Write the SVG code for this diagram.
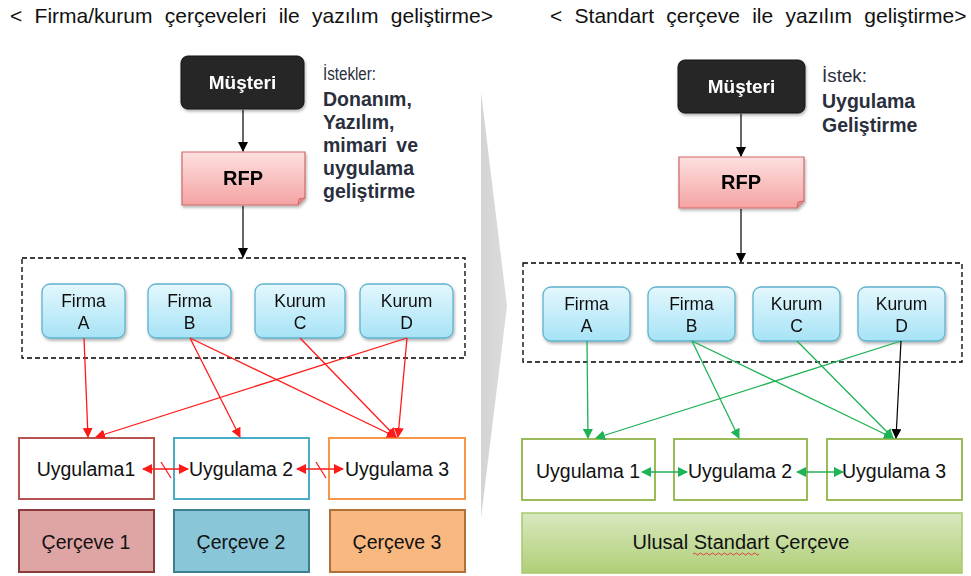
<svg xmlns="http://www.w3.org/2000/svg" width="971" height="576" viewBox="0 0 971 576">
<defs>
<linearGradient id="gRfp" x1="0" y1="0" x2="0" y2="1"><stop offset="0" stop-color="#fde0e0"/><stop offset="1" stop-color="#f5a3a3"/></linearGradient>
<linearGradient id="gNode" x1="0" y1="0" x2="0" y2="1"><stop offset="0" stop-color="#e4f7fd"/><stop offset="1" stop-color="#a6e3f6"/></linearGradient>
<linearGradient id="gUlusal" x1="0" y1="0" x2="0" y2="1"><stop offset="0" stop-color="#d9e8bf"/><stop offset="1" stop-color="#b0cf78"/></linearGradient>
<linearGradient id="gArrow" x1="0" y1="0" x2="1" y2="0"><stop offset="0" stop-color="#d4d4d4"/><stop offset="1" stop-color="#dcdcdc"/></linearGradient>
<filter id="sh" x="-10%" y="-10%" width="125%" height="130%"><feDropShadow dx="1" dy="2" stdDeviation="1.5" flood-color="#000" flood-opacity="0.3"/></filter>
<marker id="mBlack" viewBox="0 0 10 10" refX="9" refY="5" markerWidth="10" markerHeight="10" markerUnits="userSpaceOnUse" orient="auto"><path d="M0,0 L10,5 L0,10 z" fill="#000"/></marker>
<marker id="mRed" viewBox="0 0 10 10" refX="9" refY="5" markerWidth="10" markerHeight="10" markerUnits="userSpaceOnUse" orient="auto-start-reverse"><path d="M0,0 L10,5 L0,10 z" fill="#ff1a1a"/></marker>
<marker id="mGreen" viewBox="0 0 10 10" refX="9" refY="5" markerWidth="10" markerHeight="10" markerUnits="userSpaceOnUse" orient="auto-start-reverse"><path d="M0,0 L10,5 L0,10 z" fill="#1fb256"/></marker>
</defs>
<style>
text{font-family:"Liberation Sans",Arial,sans-serif;fill:#111;}
.title{font-size:21px;word-spacing:6.5px;}
.note{font-size:18px;fill:#2a2f3d;}
.noteb{font-size:19.5px;font-weight:bold;fill:#2a2f3d;}
.cust{fill:#262626;stroke:#111;stroke-width:1;}
.custt{font-size:19px;font-weight:bold;fill:#fff;}
.rfp{fill:url(#gRfp);stroke:#d06868;stroke-width:1.2;}
.rfpt{font-size:20px;font-weight:bold;fill:#000;}
.dash{fill:none;stroke:#000;stroke-width:1.3;stroke-dasharray:5,3;}
.node{fill:url(#gNode);stroke:#5eb3cd;stroke-width:1.3;}
.nodet{font-size:17.5px;}
.app{fill:#fff;stroke-width:2;}
.appt{font-size:19.5px;}
.fr{stroke-width:2;}
.frt{font-size:19.5px;}
.r{stroke:#ff1a1a;stroke-width:1.3;fill:none;}
.g{stroke:#1fb256;stroke-width:1.3;fill:none;}
.k{stroke:#000;stroke-width:1.2;fill:none;}
</style>

<text class="title" x="10" y="23">&lt; Firma/kurum çerçeveleri ile yazılım geliştirme&gt;</text>
<text class="title" x="550" y="23">&lt; Standart çerçeve ile yazılım geliştirme&gt;</text>

<polygon points="481,92 507,306 481,518" fill="url(#gArrow)"/>

<g id="left-musteri" filter="url(#sh)"><rect class="cust" x="181" y="56" width="123" height="53" rx="7"/><text class="custt" x="242.5" y="89" text-anchor="middle">Müşteri</text></g>
<g id="left-rfp" filter="url(#sh)"><path class="rfp" d="M182,152 H305 V198 L298,205 H182 Z"/><path d="M298,205 L299,199 L305,198" fill="#e08c8c" stroke="#d06868" stroke-width="1"/><text class="rfpt" x="243" y="185" text-anchor="middle">RFP</text></g>
<g id="left-note">
<text class="note" x="323" y="80" textLength="53" lengthAdjust="spacingAndGlyphs">İstekler:</text>
<text class="noteb" x="323" y="106">Donanım,</text>
<text class="noteb" x="323" y="129">Yazılım,</text>
<text class="noteb" x="323" y="152" style="word-spacing:4px">mimari ve</text>
<text class="noteb" x="323" y="175">uygulama</text>
<text class="noteb" x="323" y="198">geliştirme</text>
</g>
<g id="left-group"><rect class="dash" x="22" y="258" width="443" height="100"/></g>
<g id="left-firmaA" filter="url(#sh)"><rect class="node" x="42" y="284" width="83" height="54" rx="8"/><text class="nodet" x="83.5" y="307" text-anchor="middle">Firma</text><text class="nodet" x="83.5" y="329" text-anchor="middle">A</text></g>
<g id="left-firmaB" filter="url(#sh)"><rect class="node" x="148" y="284" width="83" height="54" rx="8"/><text class="nodet" x="189.5" y="307" text-anchor="middle">Firma</text><text class="nodet" x="189.5" y="329" text-anchor="middle">B</text></g>
<g id="left-kurumC" filter="url(#sh)"><rect class="node" x="255" y="284" width="90" height="54" rx="8"/><text class="nodet" x="300" y="307" text-anchor="middle">Kurum</text><text class="nodet" x="300" y="329" text-anchor="middle">C</text></g>
<g id="left-kurumD" filter="url(#sh)"><rect class="node" x="360" y="284" width="93" height="54" rx="8"/><text class="nodet" x="406.5" y="307" text-anchor="middle">Kurum</text><text class="nodet" x="406.5" y="329" text-anchor="middle">D</text></g>
<g id="left-uyg1"><rect class="app" x="19" y="438" width="135" height="61" stroke="#b85450"/><text class="appt" x="86" y="476" text-anchor="middle">Uygulama1</text></g>
<g id="left-uyg2"><rect class="app" x="174" y="438" width="135" height="61" stroke="#4bacc6"/><text class="appt" x="241" y="476" text-anchor="middle">Uygulama 2</text></g>
<g id="left-uyg3"><rect class="app" x="329" y="438" width="136" height="61" stroke="#f79646"/><text class="appt" x="397" y="476" text-anchor="middle">Uygulama 3</text></g>
<g id="left-cerceve1"><rect class="fr" x="19" y="510" width="135" height="62" fill="#dfa4a4" stroke="#8c3b3b"/><text class="frt" x="86" y="549" text-anchor="middle">Çerçeve 1</text></g>
<g id="left-cerceve2"><rect class="fr" x="174" y="510" width="135" height="62" fill="#88c6d8" stroke="#3e7f8f"/><text class="frt" x="241" y="549" text-anchor="middle">Çerçeve 2</text></g>
<g id="left-cerceve3"><rect class="fr" x="330" y="510" width="135" height="62" fill="#f8b880" stroke="#b07038"/><text class="frt" x="397" y="549" text-anchor="middle">Çerçeve 3</text></g>

<g id="right-musteri" filter="url(#sh)"><rect class="cust" x="678" y="60" width="127" height="53" rx="7"/><text class="custt" x="741.5" y="93" text-anchor="middle">Müşteri</text></g>
<g id="right-rfp" filter="url(#sh)"><path class="rfp" d="M679,157 H804 V201 L797,208 H679 Z"/><path d="M797,208 L798,202 L804,201" fill="#e08c8c" stroke="#d06868" stroke-width="1"/><text class="rfpt" x="741" y="189" text-anchor="middle">RFP</text></g>
<g id="right-note">
<text class="note" x="822" y="82" textLength="45" lengthAdjust="spacingAndGlyphs">İstek:</text>
<text class="noteb" x="822" y="108">Uygulama</text>
<text class="noteb" x="822" y="132">Geliştirme</text>
</g>
<g id="right-group"><rect class="dash" x="523" y="263" width="439" height="99"/></g>
<g id="right-firmaA" filter="url(#sh)"><rect class="node" x="543" y="287" width="87" height="54" rx="8"/><text class="nodet" x="586.5" y="310" text-anchor="middle">Firma</text><text class="nodet" x="586.5" y="332" text-anchor="middle">A</text></g>
<g id="right-firmaB" filter="url(#sh)"><rect class="node" x="648" y="287" width="87" height="54" rx="8"/><text class="nodet" x="691.5" y="310" text-anchor="middle">Firma</text><text class="nodet" x="691.5" y="332" text-anchor="middle">B</text></g>
<g id="right-kurumC" filter="url(#sh)"><rect class="node" x="753" y="287" width="87" height="54" rx="8"/><text class="nodet" x="796.5" y="310" text-anchor="middle">Kurum</text><text class="nodet" x="796.5" y="332" text-anchor="middle">C</text></g>
<g id="right-kurumD" filter="url(#sh)"><rect class="node" x="858" y="287" width="87" height="54" rx="8"/><text class="nodet" x="901.5" y="310" text-anchor="middle">Kurum</text><text class="nodet" x="901.5" y="332" text-anchor="middle">D</text></g>
<g id="right-uyg1"><rect class="app" x="522" y="439" width="133" height="61" stroke="#9bbb59"/><text class="appt" x="588" y="478" text-anchor="middle">Uygulama 1</text></g>
<g id="right-uyg2"><rect class="app" x="674" y="439" width="133" height="61" stroke="#9bbb59"/><text class="appt" x="740" y="478" text-anchor="middle">Uygulama 2</text></g>
<g id="right-uyg3"><rect class="app" x="827" y="439" width="135" height="61" stroke="#9bbb59"/><text class="appt" x="894" y="478" text-anchor="middle">Uygulama 3</text></g>
<g id="right-ulusal"><rect x="522" y="513" width="440" height="60" fill="url(#gUlusal)" stroke="#a9c76e" stroke-width="1.5"/><text class="frt" x="741" y="549" text-anchor="middle" style="font-size:20px">Ulusal Standart Çerçeve</text><path d="M693,554 q1.5,-2 3,0 t3,0 t3,0 t3,0 t3,0 t3,0 t3,0 t3,0 t3,0 t3,0 t3,0 t3,0 t3,0 t3,0 t3,0 t3,0 t3,0 t3,0 t3,0 t3,0 t3,0 t3,0" fill="none" stroke="#e03030" stroke-width="0.9"/></g>

<g id="connectors">
<line class="k" x1="243" y1="110" x2="243" y2="151" marker-end="url(#mBlack)"/>
<line class="k" x1="243" y1="206" x2="243" y2="257" marker-end="url(#mBlack)"/>
<line class="k" x1="741" y1="114" x2="741" y2="156" marker-end="url(#mBlack)"/>
<line class="k" x1="741" y1="209" x2="741" y2="262" marker-end="url(#mBlack)"/>

<line class="r" x1="84" y1="338" x2="88" y2="437" marker-end="url(#mRed)"/>
<line class="r" x1="190" y1="338" x2="240" y2="437" marker-end="url(#mRed)"/>
<line class="r" x1="190" y1="338" x2="396" y2="437" marker-end="url(#mRed)"/>
<line class="r" x1="300" y1="338" x2="396" y2="437" marker-end="url(#mRed)"/>
<line class="r" x1="407" y1="338" x2="96" y2="437" marker-end="url(#mRed)"/>
<line class="r" x1="407" y1="338" x2="398" y2="437" marker-end="url(#mRed)"/>
<line class="r" x1="143" y1="469" x2="188" y2="469" marker-start="url(#mRed)" marker-end="url(#mRed)"/>
<line class="r" x1="161" y1="462" x2="171" y2="478" stroke-width="1.8"/>
<line class="r" x1="297" y1="469" x2="343" y2="469" marker-start="url(#mRed)" marker-end="url(#mRed)"/>
<line class="r" x1="316" y1="462" x2="326" y2="478" stroke-width="1.8"/>

<line class="g" x1="587" y1="341" x2="588" y2="438" marker-end="url(#mGreen)"/>
<line class="g" x1="692" y1="341" x2="739" y2="438" marker-end="url(#mGreen)"/>
<line class="g" x1="692" y1="341" x2="893" y2="438" marker-end="url(#mGreen)"/>
<line class="g" x1="797" y1="341" x2="893" y2="438" marker-end="url(#mGreen)"/>
<line class="g" x1="901" y1="341" x2="596" y2="438" marker-end="url(#mGreen)"/>
<line class="k" x1="901" y1="341" x2="896" y2="438" marker-end="url(#mBlack)"/>
<line class="g" x1="642" y1="472" x2="687" y2="472" marker-start="url(#mGreen)" marker-end="url(#mGreen)"/>
<line class="g" x1="797" y1="472" x2="843" y2="472" marker-start="url(#mGreen)" marker-end="url(#mGreen)"/>
</g>
</svg>
